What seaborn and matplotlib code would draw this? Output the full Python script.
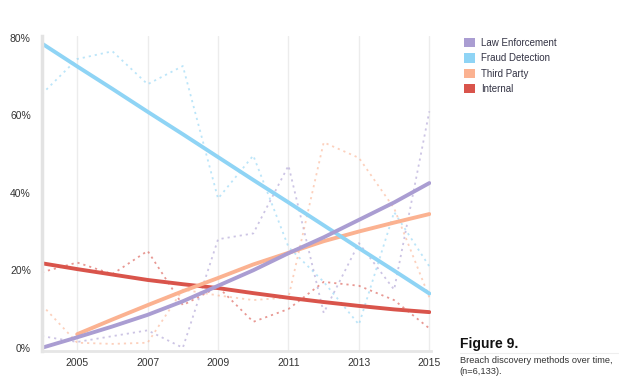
import numpy as np
import pandas as pd
import seaborn as sb
import matplotlib.pyplot as plt
from matplotlib.patches import Patch

years = list(range(2004, 2016))
series = ['Law Enforcement', 'Fraud Detection', 'Third Party', 'Internal']
colors = ['#aa9dd2', '#8fd4f5', '#fbb291', '#d9544b']

# yearly share (%), dotted lines
law_raw = [3, 1.5, 3, 4.5, 0, 28, 29.5, 47, 9, 27, 15, 61]
fraud_raw = [65.5, 74.5, 76.5, 68, 72.7, 38.5, 49.6, 26, 17, 6, 35, 21]
third_raw = [11, 1.3, 1, 1.3, 15, 13.5, 12.3, 13, 53, 49, 36, 13]
internal_raw = [19.5, 22, 19, 25, 11, 15.7, 6.7, 10, 17, 16, 12.3, 5]

# trend lines (solid), read at each year
law_trend = [0, 2.7, 5.5, 8.5, 12, 16, 20, 24.4, 28.5, 33, 37.5, 42.5]
fraud_trend = [78.5, 72.6, 66.8, 60.9, 55.1, 49.2, 43.3, 37.5, 31.6, 25.7, 19.9, 14.0]
third_trend = [None, 3.5, 7.3, 11, 14.6, 18, 21.5, 24.5, 27.5, 30, 32.3, 34.5]
internal_trend = [21.8, 20.3, 18.9, 17.5, 16.4, 15.4, 14.1, 12.9, 11.8, 10.8, 9.9, 9.2]

raw = pd.DataFrame({'Law Enforcement': law_raw, 'Fraud Detection': fraud_raw,
                    'Third Party': third_raw, 'Internal': internal_raw}, index=years)
trend = pd.DataFrame({'Law Enforcement': law_trend, 'Fraud Detection': fraud_trend,
                      'Third Party': third_trend, 'Internal': internal_trend}, index=years)
raw = raw.reset_index(names='year').melt(id_vars='year', var_name='method', value_name='pct')
trend = trend.reset_index(names='year').melt(id_vars='year', var_name='method', value_name='pct').dropna()

sb.set_style('white')
plt.rcParams['font.family'] = ['Liberation Sans', 'DejaVu Sans']
palette = dict(zip(series, colors))

fig = plt.figure(figsize=(6.4, 3.89), dpi=100)
ax = fig.add_axes([0.0656, 0.098, 0.608, 0.81])

sb.lineplot(data=raw, x='year', y='pct', hue='method', palette=palette, hue_order=series,
            ax=ax, linewidth=1.3, alpha=0.6, dashes=False, legend=False,
            linestyle=(0, (1.2, 2.2)))
sb.lineplot(data=trend, x='year', y='pct', hue='method', palette=palette, hue_order=series[::-1],
            ax=ax, linewidth=2.8, legend=False)

ax.set_xlim(2004, 2015.05)
ax.set_ylim(-0.8, 80.5)
ax.set_xticks(range(2005, 2016, 2))
ax.set_yticks([0, 20, 40, 60, 80])
ax.set_yticklabels(['0%', '20%', '40%', '60%', '80%'])
ax.xaxis.grid(True, color='#ececec', linewidth=1)
ax.yaxis.grid(False)
ax.set_xlabel('')
ax.set_ylabel('')
ax.tick_params(axis='both', length=0, labelsize=7.5, colors='#333333')
ax.tick_params(axis='y', pad=8)
ax.tick_params(axis='x', pad=5)
for side in ['top', 'right']:
    ax.spines[side].set_visible(False)
ax.spines['left'].set_color('#e3e3e3')
ax.spines['left'].set_linewidth(2.5)
ax.spines['bottom'].set_color('#e6e6e6')
ax.spines['bottom'].set_linewidth(2)

handles = [Patch(facecolor=c, edgecolor='none') for c in colors]
fig.legend(handles, series, loc='upper left', bbox_to_anchor=(0.712, 0.925), frameon=False,
           fontsize=7, handlelength=1.1, handleheight=1.1, handletextpad=0.6,
           labelspacing=0.55, labelcolor='#333344')

fig.text(0.718, 0.105, 'Figure 9.', fontsize=10, fontweight='bold', color='#111111')
fig.add_artist(plt.Line2D([0.718, 0.965], [0.093, 0.093], color='#eeeeee', linewidth=0.8))
fig.text(0.718, 0.038, 'Breach discovery methods over time,\n(n=6,133).', fontsize=6.7,
         color='#333333', linespacing=1.3)

plt.savefig('out.png', dpi=100)
